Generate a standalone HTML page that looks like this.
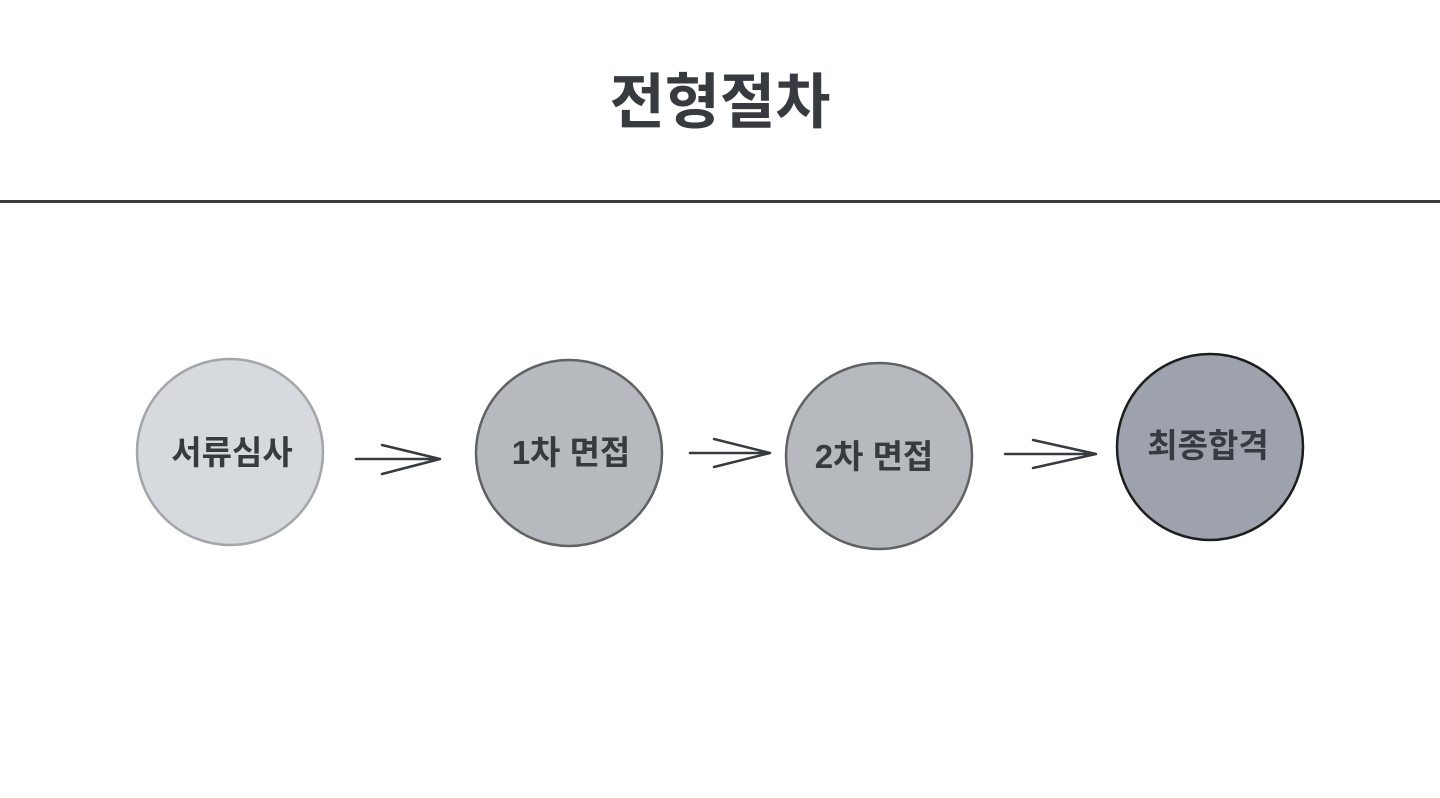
<!DOCTYPE html>
<html><head><meta charset="utf-8"><style>
html,body{margin:0;padding:0;background:#fff;width:1440px;height:798px;overflow:hidden}
</style></head><body>
<svg width="1440" height="798" xmlns="http://www.w3.org/2000/svg" style="display:block">
<text x="720" y="123" text-anchor="middle" font-family="'Liberation Sans','Noto Sans CJK KR',sans-serif" font-weight="700" font-size="60" fill="#373b40">전형절차</text>
<rect x="0" y="200" width="1440" height="3" fill="#3a3d42"/>
<g font-family="'Liberation Sans','Noto Sans CJK KR',sans-serif" font-weight="700" font-size="33" fill="#373b40" text-anchor="middle">
<circle cx="230" cy="452" r="93" fill="#d6d9de" stroke="#a3a5a9" stroke-width="2.5"/>
<text x="232" y="464">서류심사</text>
<circle cx="569" cy="453" r="93" fill="#b6babe" stroke="#606265" stroke-width="2.5"/>
<text x="571" y="464">1차 면접</text>
<circle cx="879" cy="456" r="93" fill="#b6babe" stroke="#606265" stroke-width="2.5"/>
<text x="874" y="468">2차 면접</text>
<circle cx="1210" cy="447" r="93" fill="#9da2ac" stroke="#1d1e20" stroke-width="2.5"/>
<text x="1208" y="457">최종합격</text>
</g>
<g stroke="#373b40" stroke-width="2.5" fill="none" stroke-linecap="round" stroke-linejoin="round">
<path d="M356 459 H440 M382 445 L440 459 L382 474"/>
<path d="M690 453 H770 M714 439 L770 453 L714 467"/>
<path d="M1005 454 H1096 M1033 440 L1096 454 L1033 468"/>
</g>
</svg>
</body></html>
